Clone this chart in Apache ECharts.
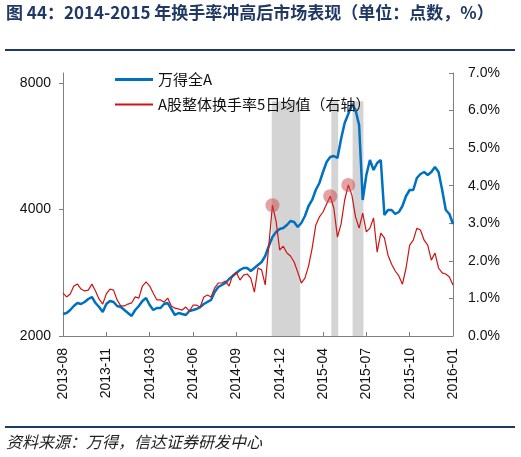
<!DOCTYPE html>
<html>
<head>
<meta charset="utf-8">
<script src="https://cdn.jsdelivr.net/npm/echarts@6/dist/echarts.min.js"></script>
<style>
  html, body { margin: 0; padding: 0; background: #fff; }
  #chart-container { width: 521px; height: 457px; }
</style>
</head>
<body>
<div id="chart-container"></div>
<script>
// tick labels on the date axis, one every 12 samples
const tickLabels = ['2013-08', '2013-11', '2014-03', '2014-06', '2014-09',
  '2014-12', '2015-04', '2015-07', '2015-10', '2016-01'];

// 万得全A (points, left log axis)
const windA = [
  2256, 2269, 2306, 2357, 2396, 2383, 2410, 2449, 2477, 2396,
  2344, 2281, 2383, 2423, 2410, 2357, 2344, 2306, 2269, 2232,
  2306, 2357, 2423, 2463, 2370, 2306, 2332, 2332, 2383, 2396,
  2319, 2244, 2269, 2256, 2244, 2294, 2306, 2319, 2344, 2383,
  2410, 2436, 2545, 2616, 2645, 2674, 2733, 2779, 2825, 2871,
  2903, 2903, 2856, 2903, 2951, 3000, 3100, 3275, 3440, 3536,
  3595, 3614, 3674, 3756, 3735, 3634, 3715, 3860, 4077, 4214,
  4451, 4625, 4912, 5189, 5333, 5363, 5304, 5886, 6426, 6750,
  7130, 6900, 6356, 4214, 4832, 5246, 4967, 5161, 5246, 3881,
  3989, 3989, 3902, 3945, 4077, 4307, 4451, 4451, 4754, 4859,
  4912, 4832, 4912, 5049, 4912, 4451, 3989, 3902, 3695
];

// A股整体换手率5日均值 (%, right axis)
const turnover = [
  1.14, 1.04, 1.12, 1.33, 1.38, 1.25, 1.20, 1.22, 1.38, 1.20,
  0.98, 0.85, 1.12, 1.25, 1.22, 0.96, 0.80, 0.80, 0.85, 0.88,
  1.04, 1.01, 1.33, 1.44, 1.33, 1.14, 0.96, 0.96, 0.90, 1.01,
  0.80, 0.74, 0.72, 0.69, 0.77, 0.66, 0.82, 0.82, 0.77, 1.04,
  1.09, 1.04, 1.28, 1.41, 1.41, 1.46, 1.33, 1.62, 1.70, 1.49,
  1.62, 1.65, 1.54, 1.17, 1.81, 1.76, 1.36, 2.42, 3.48, 3.06,
  2.29, 2.39, 2.21, 2.13, 1.97, 1.70, 1.41, 1.54, 1.86, 2.34,
  2.95, 3.17, 3.30, 3.51, 3.72, 3.40, 2.63, 2.98, 3.62, 4.02,
  3.75, 3.17, 2.87, 3.27, 2.77, 2.87, 3.14, 2.23, 2.74, 2.61,
  2.15, 1.91, 1.73, 1.60, 1.38, 1.81, 2.42, 2.55, 2.87, 2.82,
  2.55, 2.42, 2.02, 2.21, 1.81, 1.68, 1.65, 1.57, 1.36
];

// shaded periods (sample index ranges) and the peaks that get a circle
const shadeRanges = [[57.8, 65.7], [74.3, 76.2], [80.2, 83.2]];
const shadeTop = 6.25;
const peakIdx = [58, 74, 79];

const dom = document.getElementById('chart-container');
const myChart = echarts.init(dom, null, { renderer: 'canvas' });

const cjk = 'Noto Sans CJK SC';
const latin = 'Liberation Sans';
const axisGray = '#808080';
const blue = '#0070c0';
const red = '#cc1414';

const option = {
  animation: false,
  backgroundColor: '#fff',
  title: [
    {
      text: '图 44：2014-2015 年换手率冲高后市场表现（单位：点数，%）',
      left: 6,
      top: 4,
      padding: 0,
      textStyle: { fontSize: 17, fontWeight: 'bold', color: '#1f3864', fontFamily: cjk }
    },
    {
      text: '资料来源：万得，信达证券研发中心',
      left: 6,
      top: 434,
      padding: 0,
      textStyle: { fontSize: 16, fontWeight: 'normal', fontStyle: 'italic', color: '#222', fontFamily: cjk }
    }
  ],
  graphic: [
    { type: 'line', shape: { x1: 5, y1: 50, x2: 515, y2: 50 }, style: { stroke: '#1f3864', lineWidth: 2 } },
    { type: 'line', shape: { x1: 5, y1: 427, x2: 515, y2: 427 }, style: { stroke: '#1f3864', lineWidth: 2 } }
  ],
  legend: {
    orient: 'vertical',
    left: 110,
    top: 67,
    itemWidth: 38,
    itemHeight: 14,
    itemGap: 10,
    textStyle: { fontSize: 15, color: '#111', fontFamily: cjk },
    data: [
      { name: '万得全A', icon: 'path://M0 0H38V3H0Z' },
      { name: 'A股整体换手率5日均值（右轴）', icon: 'path://M0 0H38V2H0Z' }
    ]
  },
  grid: { left: 63, right: 68, top: 73, bottom: 121, containLabel: false, outerBoundsMode: 'none' },
  xAxis: {
    type: 'value',
    min: 0,
    max: windA.length - 1,
    interval: 12,
    splitLine: { show: false },
    axisLine: { onZero: false, lineStyle: { color: axisGray, width: 1 } },
    axisTick: { inside: true, length: 4, lineStyle: { color: axisGray } },
    axisLabel: {
      rotate: 90,
      margin: 12,
      fontSize: 14,
      color: '#111',
      fontFamily: latin,
      formatter: (v) => tickLabels[Math.round(v / 12)] || ''
    }
  },
  yAxis: [
    {
      type: 'log',
      logBase: 2,
      min: 2000,
      max: 8450,
      interval: 1.000001,
      splitLine: { show: false },
      axisLine: { show: true, lineStyle: { color: axisGray } },
      axisTick: { show: true, length: 4, lineStyle: { color: axisGray } },
      axisLabel: {
        showMaxLabel: false,
        margin: 12,
        fontSize: 14,
        color: '#111',
        fontFamily: latin,
        formatter: (v) => String(Math.round(v))
      }
    },
    {
      type: 'value',
      min: 0,
      max: 7,
      interval: 1,
      position: 'right',
      splitLine: { show: false },
      axisLine: { show: true, lineStyle: { color: axisGray } },
      axisTick: { show: true, inside: true, length: 4, lineStyle: { color: axisGray } },
      axisLabel: {
        margin: 15,
        fontSize: 14,
        color: '#111',
        fontFamily: latin,
        formatter: (v) => v.toFixed(1) + '%'
      }
    }
  ],
  series: [
    {
      name: '万得全A',
      type: 'line',
      yAxisIndex: 0,
      symbol: 'none',
      z: 3,
      lineStyle: { color: blue, width: 2.5 },
      itemStyle: { color: blue },
      data: windA.map((v, i) => [i, v])
    },
    {
      name: 'A股整体换手率5日均值（右轴）',
      type: 'line',
      yAxisIndex: 1,
      symbol: 'none',
      z: 4,
      lineStyle: { color: red, width: 1.2 },
      itemStyle: { color: red },
      data: turnover.map((v, i) => [i, v]),
      markArea: {
        silent: true,
        itemStyle: { color: '#d4d4d4' },
        data: shadeRanges.map((r) => [
          { xAxis: r[0], yAxis: 0 },
          { xAxis: r[1], yAxis: shadeTop }
        ])
      },
      markPoint: {
        symbol: 'circle',
        symbolSize: 14,
        silent: true,
        label: { show: false },
        itemStyle: { color: 'rgba(205, 70, 70, 0.5)' },
        data: peakIdx.map((i) => ({ coord: [i, turnover[i]] }))
      }
    }
  ]
};

myChart.setOption(option);
</script>
</body>
</html>
